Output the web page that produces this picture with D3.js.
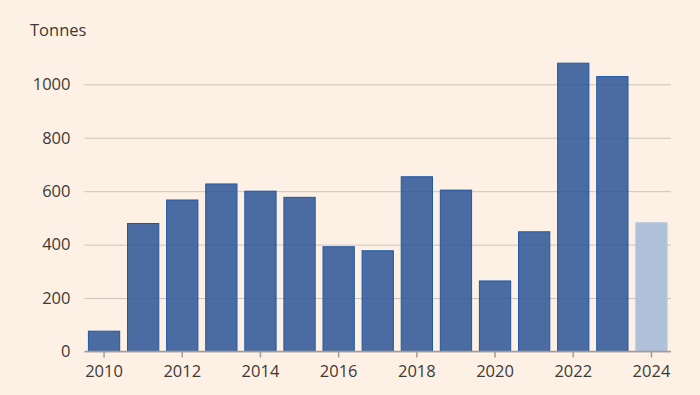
<!DOCTYPE html>
<html>
<head>
<meta charset="utf-8">
<script src="https://cdn.jsdelivr.net/npm/d3@7"></script>
<style>
  body { margin: 0; background: #fdf1e5; }
  svg text { font-family: "Open Sans", sans-serif; fill: #3d3935; }
</style>
</head>
<body>
<div id="chart"></div>
<script>
// tonnes per year, 2024 is the partial / estimated year
var years = [2010, 2011, 2012, 2013, 2014, 2015, 2016, 2017, 2018, 2019, 2020, 2021, 2022, 2023, 2024];
var tonnes = [76, 479, 567, 627, 600, 577, 392, 377, 654, 604, 264, 448, 1079, 1029, 482];
var yTicks = [0, 200, 400, 600, 800, 1000];
var xTicks = [2010, 2012, 2014, 2016, 2018, 2020, 2022, 2024];

var width = 700;
var height = 395;
var plotLeft = 84.5;
var plotRight = 671;
var plotTop = 84.3;
var plotBottom = 351.5;
var fontSize = 16.5;

var svg = d3.select("#chart")
  .append("svg")
  .attr("width", width)
  .attr("height", height)
  .style("background-color", "#fdf1e5");

var x = d3.scaleBand()
  .domain(years)
  .range([plotLeft, plotRight])
  .paddingInner(0.2)
  .paddingOuter(0.1);

var y = d3.scaleLinear()
  .domain([0, 1000])
  .range([plotBottom, plotTop]);

// gridlines
var yAxis = svg.append("g")
  .attr("transform", "translate(" + plotLeft + ",0)")
  .call(d3.axisLeft(y).tickValues(yTicks).tickSize(-(plotRight - plotLeft)).tickPadding(14).tickFormat(d3.format("d")));
yAxis.select(".domain").remove();
yAxis.selectAll("line").attr("stroke", "#cdc3ba").attr("stroke-width", 1);
yAxis.selectAll("text").attr("font-size", fontSize).attr("fill", "#3d3935");

svg.append("text")
  .attr("x", 30)
  .attr("y", 36)
  .attr("font-size", fontSize)
  .text("Tonnes");

svg.selectAll(".bar")
  .data(years)
  .enter()
  .append("rect")
  .attr("class", "bar")
  .attr("x", function(d) { return x(d); })
  .attr("y", function(d, i) { return y(tonnes[i]); })
  .attr("width", x.bandwidth())
  .attr("height", function(d, i) { return plotBottom - y(tonnes[i]); })
  .attr("fill", function(d) { return d == 2024 ? "#aec1d8" : "#2b5596"; })
  .attr("fill-opacity", function(d) { return d == 2024 ? 1 : 0.85; })
  .attr("stroke", function(d) { return d == 2024 ? "#b8c8dc" : "#2058a5"; })
  .attr("stroke-width", 1);

var xAxis = svg.append("g")
  .attr("transform", "translate(0," + plotBottom + ")")
  .call(d3.axisBottom(x).tickValues(xTicks).tickSize(6).tickPadding(8).tickFormat(d3.format("d")));
xAxis.select(".domain")
  .attr("d", "M" + plotLeft + ",0H" + plotRight)
  .attr("stroke", "#a39c96")
  .attr("stroke-width", 1.5);
xAxis.selectAll("line").attr("stroke", "#a39c96").attr("stroke-width", 1.5);
xAxis.selectAll("text").attr("font-size", fontSize).attr("fill", "#3d3935");
</script>
</body>
</html>
